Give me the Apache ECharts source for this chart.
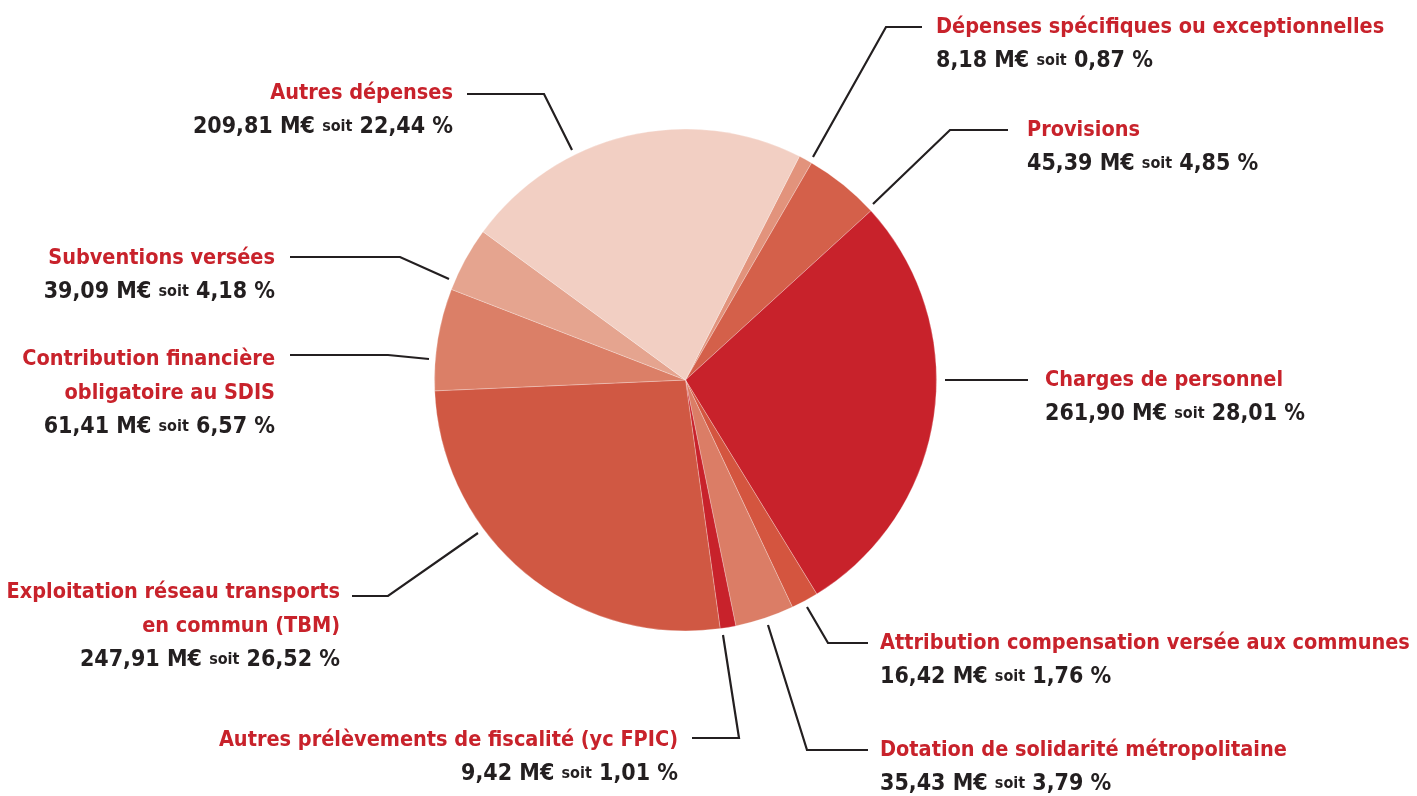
<!DOCTYPE html>
<html>
<head>
<meta charset="utf-8">
<title>Dépenses de fonctionnement</title>
<script src="https://cdn.jsdelivr.net/npm/echarts@6/dist/echarts.min.js"></script>
<style>
  html, body { margin: 0; padding: 0; background: #fff; }
  #main { width: 1417px; height: 796px; }
</style>
</head>
<body>
<div id="main"></div>
<script>
// postes de dépenses, dans le sens des aiguilles d'une montre
var categories = [
    'Dépenses spécifiques ou exceptionnelles',
    'Provisions',
    'Charges de personnel',
    'Attribution compensation versée aux communes',
    'Dotation de solidarité métropolitaine',
    'Autres prélèvements de fiscalité (yc FPIC)',
    'Exploitation réseau transports\nen commun (TBM)',
    'Contribution financière\nobligatoire au SDIS',
    'Subventions versées',
    'Autres dépenses'
];
var amounts = [8.18, 45.39, 261.90, 16.42, 35.43, 9.42, 247.91, 61.41, 39.09, 209.81];
var percents = [0.87, 4.85, 28.01, 1.76, 3.79, 1.01, 26.52, 6.57, 4.18, 22.44];

var colors = ['#e2937c', '#d4604a', '#c8222b', '#d4553f', '#db7d66',
              '#c8222b', '#d05843', '#db7f67', '#e5a48f', '#f2cfc3'];

// emplacement des étiquettes : ancre du texte + tracé du trait
var spots = [
    { x: 936, y: 27, align: 'left', line: [[813, 157], [886, 27], [922, 27]] },
    { x: 1027, y: 130, align: 'left', line: [[873, 204], [950, 130], [1008, 130]] },
    { x: 1045, y: 380, align: 'left', line: [[945, 380], [1028, 380]] },
    { x: 880, y: 643, align: 'left', line: [[807, 607], [828, 643], [868, 643]] },
    { x: 880, y: 750, align: 'left', line: [[768, 625], [807, 750], [868, 750]] },
    { x: 678, y: 740, align: 'right', line: [[723, 635], [739, 738], [692, 738]] },
    { x: 340, y: 592, align: 'right', line: [[478, 533], [388, 596], [352, 596]] },
    { x: 275, y: 359, align: 'right', line: [[429, 359], [388, 355], [290, 355]] },
    { x: 275, y: 258, align: 'right', line: [[449, 279], [400, 257], [290, 257]] },
    { x: 453, y: 93, align: 'right', line: [[572, 150], [544, 94], [467, 94]] }
];

var FONT = "'DejaVu Sans Condensed', 'Noto Sans', sans-serif";
var LH = 34;

function fr(n) {
    return n.toFixed(2).replace('.', ',');
}

var data = [];
for (var i = 0; i < categories.length; i++) {
    data.push({
        name: categories[i],
        value: amounts[i],
        pct: percents[i],
        itemStyle: { color: colors[i] }
    });
}

var chart = echarts.init(document.getElementById('main'));
var option = {
    backgroundColor: '#ffffff',
    animation: false,
    series: [
        {
            type: 'pie',
            center: [685.5, 380],
            radius: 251,
            startAngle: 63,
            clockwise: true,
            avoidLabelOverlap: false,
            data: data,
            itemStyle: {
                borderColor: 'rgba(255,255,255,0.5)',
                borderWidth: 0.5
            },
            label: {
                show: true,
                position: 'outside',
                fontFamily: FONT,
                formatter: function (p) {
                    var lines = p.name.split('\n').map(function (s) {
                        return '{t|' + s + '}';
                    }).join('\n');
                    return lines + '\n{v|' + fr(p.value) + ' M€ }{s|soit}{v| ' + fr(p.data.pct) + ' %}';
                },
                rich: {
                    t: { color: '#c8222b', fontWeight: 'bold', fontSize: 21.5, lineHeight: LH, fontFamily: FONT },
                    v: { color: '#231f20', fontWeight: 'bold', fontSize: 23, lineHeight: LH, fontFamily: FONT },
                    s: { color: '#231f20', fontWeight: 'bold', fontSize: 16, lineHeight: LH, fontFamily: FONT }
                }
            },
            labelLine: {
                show: true,
                length: 20,
                length2: 20,
                lineStyle: { color: '#231f20', width: 2.2 }
            },
            labelLayout: function (params) {
                var s = spots[params.dataIndex];
                return {
                    x: s.x,
                    y: s.y - LH / 2,
                    align: s.align,
                    verticalAlign: 'top',
                    labelLinePoints: s.line
                };
            },
            emphasis: { disabled: true }
        }
    ]
};
chart.setOption(option);
</script>
</body>
</html>
